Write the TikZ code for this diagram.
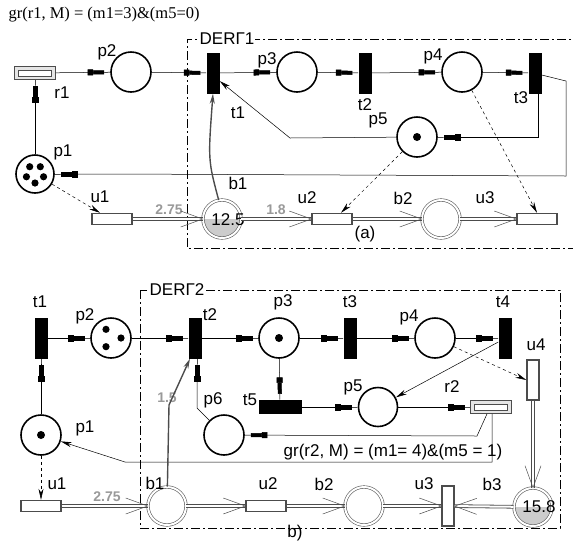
\documentclass[tikz,border=0pt]{standalone}
\usepackage{fontspec}
\setmainfont{Liberation Sans}
\newfontfamily\serifnet{Liberation Serif}
\usetikzlibrary{arrows.meta,decorations.markings}

\tikzset{
  pnhead/.tip={Square[length=5.5pt,width=6pt,sep=0pt]Rectangle[length=11pt,width=4pt,sep=0pt]Rectangle[length=6pt,width=0.5pt,sep=0pt]},
  place/.style={circle, draw, line width=1.6pt, minimum size=40pt, inner sep=0pt},
  trans/.style={rectangle, fill=black, minimum width=13pt, minimum height=41pt, inner sep=0pt},
  htrans/.style={trans, minimum width=43pt, minimum height=14pt},
  res/.style={circle, draw=gray!70!black, double=white, double distance=2pt, line width=0.6pt, minimum size=38pt, inner sep=0pt},
  halfgrey/.style={path picture={\fill[gray!40] (path picture bounding box.west) rectangle (path picture bounding box.south east);}},
  evt/.style={rectangle, draw=gray!60!black, line width=1.4pt, fill=white, minimum width=40pt, minimum height=11pt, inner sep=0pt},
  vevt/.style={evt, minimum width=12pt, minimum height=40pt},
  rbox/.style={rectangle, draw=gray!60!black, fill=gray!20, line width=0.8pt, minimum width=41pt, minimum height=13pt, inner sep=0pt,
    path picture={\draw[gray!60!black, fill=white, line width=0.8pt] ([shift={(4pt,-3.5pt)}]path picture bounding box.north west) rectangle ([shift={(-4pt,3.5pt)}]path picture bounding box.south east);}},
  qty/.style={font=\fontsize{14}{16}\selectfont\bfseries, text=gray!80, inner sep=1pt},
  frm/.style={draw, line width=0.6pt, dash pattern=on 9pt off 3pt on 2pt off 3pt},
  pnarc/.style={draw, line width=0.5pt, -{pnhead}},
  warc/.style={draw, line width=0.5pt, -{Stealth[length=11pt,width=5pt]}},
  darc/.style={draw, line width=0.5pt, dash pattern=on 3pt off 3pt, -{Stealth[length=11pt,width=5pt]}},
  garc/.style={draw=gray!60!black, line width=1.4pt, -{Stealth[length=10pt,width=5pt]}},
  carc/.style={preaction={draw, gray!60!black, line width=3.6pt}, draw=white, line width=2pt,
    postaction={decorate}, decoration={markings, mark=at position 1 with {\draw[gray!60!black, line width=0.5pt] (-22pt,8pt) -- (0pt,0pt) -- (-22pt,-8pt);}}}
}

\begin{document}
\begin{tikzpicture}[x=1pt,y=-1pt,font=\fontsize{17}{19}\selectfont]
\useasboundingbox (0,0) rectangle (573,542);
% Part (a): fragment DERG1
\node[anchor=west, font=\serifnet\fontsize{16.5}{18}\selectfont] (cond1) at (5,15) {gr(r1, M) = (m1=3)\&(m5=0)};
\draw[frm] (600,39) -- (187,39) -- (187,248) -- (600,248);
\node[fill=white, inner sep=1pt] (der1) at (227,39) {DERГ1};
\node[rbox] (r1) at (35,73) {};
\node[place] (p2) at (131,72) {};
\node[trans] (t1) at (213,73) {};
\node[place] (p3) at (297,72) {};
\node[trans] (t2) at (365,73) {};
\node[place] (p4) at (462,72) {};
\node[trans] (t3) at (535,73) {};
\node[place] (p5) at (417,137) {};
\node[place, minimum size=38pt] (p1) at (35,174) {};
\node[evt] (u1) at (112,219) {};
\node[res, halfgrey] (b1) at (222,219) {};
\node[evt] (u2) at (332,219) {};
\node[res] (b2) at (441,219) {};
\node[evt] (u3) at (537,219) {};
\node (m1) at (228,220) {12.5};
% labels
\node (lp2) at (107,52) {p2};
\node (lr1) at (62,93) {r1};
\node (lp3) at (267,60) {p3};
\node (lt1) at (238,113) {t1};
\node (lt2) at (365,105) {t2};
\node (lp4) at (433,56) {p4};
\node (lt3) at (521,98) {t3};
\node (lp5) at (378,120) {p5};
\node (lp1) at (63,152) {p1};
\node (lb1) at (238,183) {b1};
\node (lu1) at (100,197) {u1};
\node (lu2) at (307,198) {u2};
\node (lb2) at (403,198) {b2};
\node (lu3) at (485,198) {u3};
\node (capa) at (365,234) {(a)};
\node[qty] (w1) at (169,210) {2.75};
\node[qty] (w2) at (276,210) {1.8};
% tokens
\foreach \a in {90,162,...,378} \fill (p1) ++(\a:9) circle (3.6pt);
\fill (p5) circle (4pt);
% arcs
\draw[pnarc] (r1) -- (p2);
\draw[pnarc] (p2) -- (t1);
\draw[pnarc] (t1) -- (p3);
\draw[pnarc] (p3) -- (t2);
\draw[pnarc] (t2) -- (p4);
\draw[pnarc] (p4) -- (t3);
\draw[pnarc] (p1) -- (r1);
\draw[pnarc] ([xshift=3pt]t3.south) |- (p5);
\coordinate (k1) at (290,138);
\draw[warc] (p5) -- (k1) -- ([yshift=-8pt]t1.east);
\coordinate (k2) at (566,81);
\coordinate (k3) at (566,176);
\coordinate (k4) at (117,174);
\draw[pnarc] ([yshift=-2pt]t3.east) -- (k2) -- (k3) -- (k4) -- (p1);
\draw[garc] (b1.100) .. controls (208,160) .. (t1.south);
\draw[darc] (p1) -- ([xshift=-12pt]u1.north);
\draw[darc] (p5) -- ([xshift=9pt]u2.north);
\draw[darc] (p4) -- (u3.north);
\draw[carc] (u1) -- (b1);
\draw[carc] (b1) -- (u2);
\draw[carc] (u2) -- (b2);
\draw[carc] (b2) -- (u3);
% Part (b): fragment DERG2
\draw[frm] (140,290) rectangle (560,528);
\node[fill=white, inner sep=1pt] (der2) at (177,290) {DERГ2};
\node[trans] (bt1) at (41,338) {};
\node[place] (bp2) at (111,338) {};
\node[trans] (bt2) at (195,338) {};
\node[place] (bp3) at (279,338) {};
\node[trans] (bt3) at (350,338) {};
\node[place] (bp4) at (435,338) {};
\node[trans] (bt4) at (505,338) {};
\node[vevt] (bu4) at (533,380) {};
\node[htrans] (bt5) at (280,407) {};
\node[place, minimum size=39pt] (bp5) at (378,407) {};
\node[rbox] (br2) at (491,407) {};
\node[place] (bp6) at (224,435) {};
\node[place] (bp1) at (41,435) {};
\node[evt] (bu1) at (41,506) {};
\node[res] (bb1) at (167,506) {};
\node[evt] (bu2) at (266,506) {};
\node[res] (bb2) at (364,506) {};
\node[vevt] (bu3) at (448,506) {};
\node[res, halfgrey] (bb3) at (533,507) {};
\node (m3) at (539,507) {15.8};
% labels
\node (blt1) at (40,302) {t1};
\node (blp2) at (85,316) {p2};
\node (blt2) at (210,315) {t2};
\node (blp3) at (283,302) {p3};
\node (blt3) at (350,302) {t3};
\node (blp4) at (409,317) {p4};
\node (blt4) at (503,302) {t4};
\node (blu4) at (536,345) {u4};
\node (blt5) at (250,400) {t5};
\node (blp6) at (213,400) {p6};
\node (blp5) at (353,387) {p5};
\node (blr2) at (452,387) {r2};
\node (blp1) at (85,428) {p1};
\node (blu1) at (57,484) {u1};
\node (blb1) at (155,483) {b1};
\node (blu2) at (268,484) {u2};
\node (blb2) at (324,484) {b2};
\node (blu3) at (424,484) {u3};
\node (blb3) at (492,484) {b3};
\node (capb) at (295,533) {b)};
\node (cond2) at (393,452) {gr(r2, M) = (m1= 4)\&(m5 = 1)};
\node[qty] (w3) at (107,497) {2.75};
\node[qty] (w4) at (167,398) {1.5};
% tokens
\foreach \a in {0,120,240} \fill (bp2) ++(\a:10) circle (3.6pt);
\fill (bp3) circle (4pt);
\fill (bp1) circle (4pt);
% arcs
\draw[pnarc] (bt1) -- (bp2);
\draw[pnarc] (bp2) -- (bt2);
\draw[pnarc] (bt2) -- (bp3);
\draw[pnarc] (bp3) -- (bt3);
\draw[pnarc] (bt3) -- (bp4);
\draw[pnarc] (bp4) -- (bt4);
\draw[pnarc] (bp1) -- (bt1);
\draw[pnarc] (bp3) -- (bt5);
\draw[pnarc] (bt5) -- (bp5);
\draw[warc] ([yshift=-4pt]bt4.west) -- (bp5);
\draw[pnarc] (bp5) -- (br2);
\coordinate (k5) at (477,436);
\draw[pnarc] ([xshift=-4pt]br2.south) -- (k5) -- (bp6);
\coordinate (k6) at (492,462);
\coordinate (k7) at (125,462);
\draw[warc] ([xshift=1pt]br2.south) -- (k6) -- (k7) -- (bp1);
\coordinate (k8) at (197,408);
\draw[pnarc] (bp6) -- (k8) -- ([xshift=2pt]bt2.south);
\coordinate (k9) at (169,405);
\draw[garc] (bb1) -- (k9) -- ([xshift=-5pt]bt2.south);
\draw[darc] (bp1) -- (bu1);
\draw[darc] (bp4) -- (bu4.west);
\draw[carc] (bu1) -- (bb1);
\draw[carc] (bb1) -- (bu2);
\draw[carc] (bu2) -- (bb2);
\draw[carc] (bb2) -- (bu3);
\draw[carc] (bb3) -- (bu3);
\draw[carc] (bu4) -- (bb3);
\end{tikzpicture}
\end{document}
